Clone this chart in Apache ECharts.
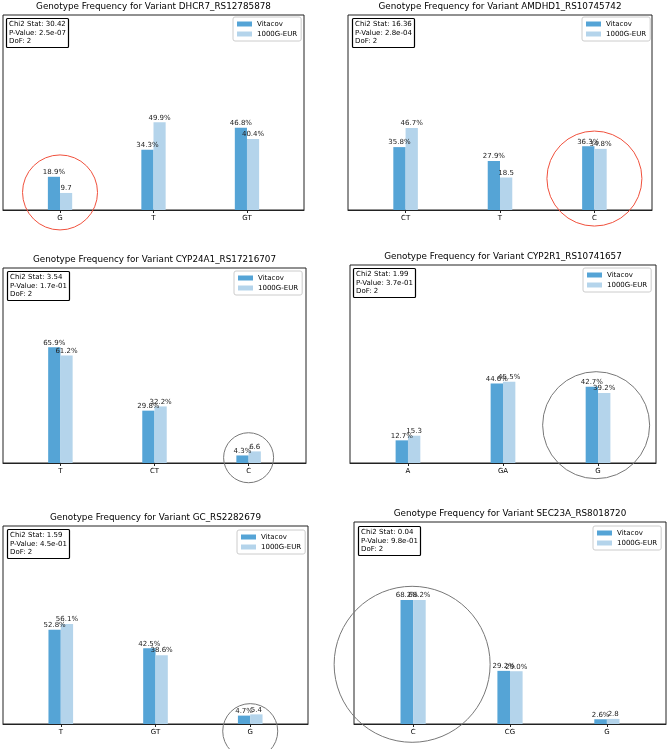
<!DOCTYPE html>
<html>
<head>
<meta charset="utf-8">
<script src="https://cdn.jsdelivr.net/npm/echarts@6/dist/echarts.min.js"></script>
<style>html,body{margin:0;padding:0;background:#fff}#c{width:669px;height:749px}</style>
</head>
<body>
<div id="c"></div>
<script>
// ---------- data ----------
const variants = ['DHCR7_RS12785878', 'AMDHD1_RS10745742', 'CYP24A1_RS17216707',
                  'CYP2R1_RS10741657', 'GC_RS2282679', 'SEC23A_RS8018720'];
const genotypes = [['G','T','GT'], ['CT','T','C'], ['T','CT','C'],
                   ['A','GA','G'], ['T','GT','G'], ['C','CG','G']];
const vitacov = [[18.9, 34.3, 46.8], [35.8, 27.9, 36.3], [65.9, 29.8, 4.3],
                 [12.7, 44.6, 42.7], [52.8, 42.5, 4.7], [68.2, 29.2, 2.6]];
const eur1000G = [[9.7, 49.9, 40.4], [46.7, 18.5, 34.8], [61.2, 32.2, 6.6],
                  [15.3, 45.5, 39.2], [56.1, 38.6, 5.4], [68.2, 29.0, 2.8]];
const chi2Stat = ['30.42', '16.36', '3.54', '1.99', '1.59', '0.04'];
const pValue = ['2.5e-07', '2.8e-04', '1.7e-01', '3.7e-01', '4.5e-01', '9.8e-01'];
const dof = [2, 2, 2, 2, 2, 2];
const seriesNames = ['Vitacov', '1000G-EUR'];
// highlighted genotype per panel: [category index, value at centre, radius px, colour]
const highlight = [[0, 10.0, 37.5, '#f0503c'], [2, 17.9, 47.5, '#f0503c'], [2, 3.0, 25, '#777'],
                   [1.98, 21.2, 53.5, '#777'], [2, -4.0, 27.5, '#777'], [-0.01, 32.8, 78, '#777']];

// ---------- layout ----------
const gridBoxes = [[3, 15, 301, 195], [348, 15, 304, 195], [3, 268, 303, 195],
                   [350, 265, 306, 198], [3, 526, 305, 198], [354, 522, 312, 202]];
const legendPos = [[233, 17], [582, 17], [234, 271], [583, 268], [237, 530], [593, 526]];
const statsPos = [[6, 18], [352, 18], [7, 271], [353, 268], [7, 529], [358, 526]];

const FONT = 'DejaVu Sans';
const VIT = '#55a4d6';
const EUR = '#b4d4eb';

const chart = echarts.init(document.getElementById('c'));
const option = {animation: false, grid: [], xAxis: [], yAxis: [], series: [], legend: [], title: []};

for (let i = 0; i < 6; i++) {
  const [l, t, w, h] = gridBoxes[i];
  option.grid.push({left: l, top: t, width: w, height: h, show: true,
    borderColor: '#222', borderWidth: 1, backgroundColor: 'transparent'});
  option.xAxis.push({type: 'value', gridIndex: i, min: -0.61, max: 2.61,
    splitLine: {show: false},
    axisLine: {show: true, onZero: false, lineStyle: {color: '#222', width: 1}},
    axisTick: {show: true, length: 3, customValues: [0, 1, 2], lineStyle: {color: '#222'}},
    axisLabel: {customValues: [0, 1, 2], formatter: v => genotypes[i][Math.round(v)],
      fontSize: 7, color: '#000', margin: 5, fontFamily: FONT}});
  option.yAxis.push({type: 'value', gridIndex: i, min: 0, max: 111, show: false});
  const lbl = {show: true, position: 'top', distance: 1, fontSize: 7, color: '#222', fontFamily: FONT};
  option.series.push({type: 'bar', name: seriesNames[0], xAxisIndex: i, yAxisIndex: i,
    data: vitacov[i].map((v, k) => [k, v]), barWidth: '13%', barGap: '0%',
    itemStyle: {color: VIT},
    label: Object.assign({}, lbl, {formatter: p => p.value[1].toFixed(1) + '%'})});
  option.series.push({type: 'bar', name: seriesNames[1], xAxisIndex: i, yAxisIndex: i,
    data: eur1000G[i].map((v, k) => [k, v]), barWidth: '13%', barGap: '0%',
    itemStyle: {color: EUR},
    label: Object.assign({}, lbl, {formatter: p => p.value[1] >= 20 ? p.value[1].toFixed(1) + '%' : p.value[1].toFixed(1)})});
  option.legend.push({data: seriesNames, left: legendPos[i][0], top: legendPos[i][1],
    orient: 'vertical', icon: 'rect', itemWidth: 15, itemHeight: 5, itemGap: 2,
    padding: [3, 4, 3, 4], borderColor: '#ccc', borderWidth: 1, borderRadius: 2,
    backgroundColor: '#fff', selectedMode: false,
    textStyle: {fontSize: 7, fontFamily: FONT, color: '#000', lineHeight: 8}});
  option.title.push({text: 'Chi2 Stat: ' + chi2Stat[i] + '\nP-Value: ' + pValue[i] + '\nDoF: ' + dof[i],
    left: statsPos[i][0], top: statsPos[i][1], padding: [2, 3, 2, 3],
    borderColor: '#000', borderWidth: 1.2, borderRadius: 1, backgroundColor: '#fff',
    textStyle: {fontSize: 7, fontWeight: 'normal', lineHeight: 8.5, color: '#000', fontFamily: FONT}});
}
chart.setOption(option);

const graphics = [];
for (let i = 0; i < 6; i++) {
  const [l, t, w] = gridBoxes[i];
  graphics.push({type: 'text', x: l + w / 2, y: t - 8.5, z: 50,
    style: {text: 'Genotype Frequency for Variant ' + variants[i], fontSize: 8.8,
      fontFamily: FONT, fill: '#000', align: 'center', verticalAlign: 'middle'}});
  const [c, v, r, col] = highlight[i];
  const [cx, cy] = chart.convertToPixel({gridIndex: i}, [c, v]);
  graphics.push({type: 'circle', shape: {cx: cx, cy: cy, r: r}, z: 60,
    style: {fill: 'none', stroke: col, lineWidth: 1}});
}
chart.setOption({graphic: graphics});
</script>
</body>
</html>
